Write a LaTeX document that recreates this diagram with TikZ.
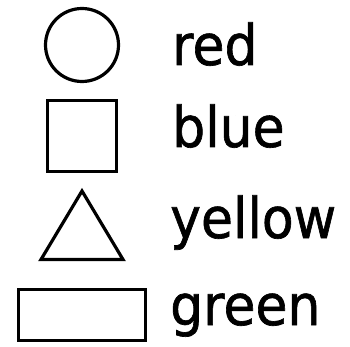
\documentclass[tikz,border=0pt]{standalone}
\usepackage{fontspec}
\setmainfont{DejaVu Sans}
\newfontfamily\lblfont[FakeBold=1.2]{DejaVu Sans}
\newcommand{\lbltext}[1]{\scalebox{1}[1.08]{#1}}
\begin{document}
\begin{tikzpicture}[x=1pt,y=-1pt,
  shapeline/.style={draw=black,line width=3.2pt,line join=miter},
  label/.style={anchor=base west,inner sep=0pt,font=\lblfont\fontsize{52}{60}\selectfont}]
\useasboundingbox (0,0) rectangle (350,347);
\draw[shapeline] (82,45) circle[radius=36.5];
\draw[shapeline] (47.5,100.5) rectangle (116.5,171.5);
\draw[shapeline] (82,191) -- (123,259.5) -- (41,259.5) -- cycle;
\draw[shapeline] (18.5,289.5) rectangle (145.5,340.5);
\node[label] (r) at (172,65) {\lbltext{red}};
\node[label] (b) at (172,147) {\lbltext{blue}};
\node[label] (y) at (170,238) {\lbltext{yellow}};
\node[label] (g) at (170,325) {\lbltext{green}};
\end{tikzpicture}
\end{document}
